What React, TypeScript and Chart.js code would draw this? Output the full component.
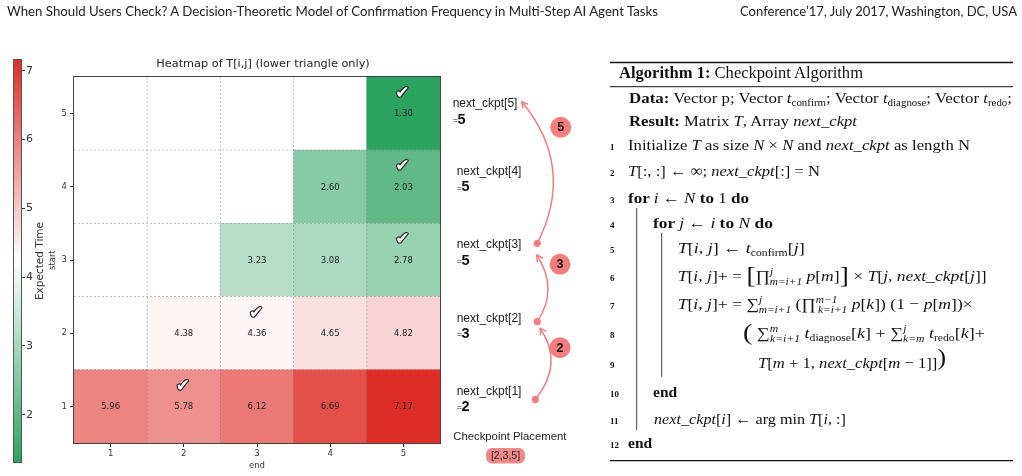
import React, { useEffect, useRef } from "react";
import { Chart, registerables } from "chart.js";

Chart.register(...registerables);

// ---------- data ----------
const endLabels = ["1", "2", "3", "4", "5"];
const startLabels = ["1", "2", "3", "4", "5"];
const rowStart1: (number | null)[] = [5.96, 5.78, 6.12, 6.69, 7.17];
const rowStart2: (number | null)[] = [null, 4.38, 4.36, 4.65, 4.82];
const rowStart3: (number | null)[] = [null, null, 3.23, 3.08, 2.78];
const rowStart4: (number | null)[] = [null, null, null, 2.6, 2.03];
const rowStart5: (number | null)[] = [null, null, null, null, 1.3];
const nextCkpt = [2, 3, 5, 5, 5];
const placement = [2, 3, 5];
const colorbarTicks = [2, 3, 4, 5, 6, 7];
const vMin = 1.3;
const vMax = 7.17;

const rows = [rowStart1, rowStart2, rowStart3, rowStart4, rowStart5];

// ---------- colormap ----------
const GREEN = [44, 162, 95];
const WHITE = [255, 255, 255];
const RED = [222, 45, 38];
function cmap(v: number) {
  const mid = (vMin + vMax) / 2;
  let a: number[], b: number[], t: number;
  if (v <= mid) {
    a = GREEN; b = WHITE; t = (v - vMin) / (mid - vMin);
  } else {
    a = WHITE; b = RED; t = (v - mid) / (vMax - mid);
  }
  t = Math.max(0, Math.min(1, t));
  const c = a.map((x, i) => Math.round(x + (b[i] - x) * t));
  return `rgb(${c[0]},${c[1]},${c[2]})`;
}

const ARROW = "#f47d7d";
const SANS = "'Liberation Sans', Arial, sans-serif";
const DV = "'DejaVu Sans', sans-serif";

// layout constants for the annotation column (relative to chart area right edge / row centres)
const arrowLayout = [
  { dot: [95.3, -7], end: [100, -5], ctrl: [124.4, 0], badge: [120, 14.5] },
  { dot: [97.3, -11.5], end: [96.7, -5], ctrl: [119, 0], badge: [120, 4.3] },
  { dot: [97.3, -16.7], end: [81.7, -12], ctrl: [135.9, -5], badge: [120.7, 13.7] },
];

const heatPlugin = {
  id: "heatExtras",
  afterDatasetsDraw(chart: any) {
    const { ctx, chartArea: a, scales } = chart;
    const x = scales.x;
    const y = scales.y;
    ctx.save();
    // dashed grid at cell boundaries
    ctx.strokeStyle = "rgba(120,120,120,0.55)";
    ctx.lineWidth = 0.8;
    ctx.setLineDash([2, 2]);
    for (let k = 1; k < endLabels.length; k++) {
      const px = (x.getPixelForValue(k - 1) + x.getPixelForValue(k)) / 2;
      ctx.beginPath();
      ctx.moveTo(px, a.top);
      ctx.lineTo(px, a.bottom);
      ctx.stroke();
    }
    for (let k = 1; k < startLabels.length; k++) {
      const py = y.getPixelForValue(k + 0.5);
      ctx.beginPath();
      ctx.moveTo(a.left, py);
      ctx.lineTo(a.right, py);
      ctx.stroke();
    }
    ctx.setLineDash([]);
    // frame
    ctx.strokeStyle = "#444";
    ctx.lineWidth = 1;
    ctx.strokeRect(a.left - 0.5, a.top - 0.5, a.width + 1, a.height + 1);

    // values
    ctx.font = `8.5px ${DV}`;
    ctx.fillStyle = "#222";
    ctx.textAlign = "center";
    ctx.textBaseline = "middle";
    rows.forEach((r, ri) => {
      r.forEach((v, ci) => {
        if (v == null) return;
        ctx.fillText(v.toFixed(2), x.getPixelForValue(ci), y.getPixelForValue(ri + 1) + 0.5);
      });
    });
    // check marks at argmin
    ctx.font = `17px ${DV}`;
    ctx.lineJoin = "round";
    nextCkpt.forEach((c, ri) => {
      const px = x.getPixelForValue(c - 1) - 1;
      const py = y.getPixelForValue(ri + 1) - 20;
      ctx.strokeStyle = "#222";
      ctx.lineWidth = 2.4;
      ctx.strokeText("\u2714", px, py);
      ctx.fillStyle = "#fff";
      ctx.fillText("\u2714", px, py);
    });

    // title
    ctx.fillStyle = "#222";
    ctx.font = `11.3px ${DV}`;
    ctx.fillText("Heatmap of T[i,j] (lower triangle only)", (a.left + a.right) / 2 + 6, a.top - 13);

    // next_ckpt labels
    ctx.textAlign = "left";
    nextCkpt.forEach((c, ri) => {
      const r = ri + 1;
      const cy = y.getPixelForValue(r);
      const top = r === startLabels.length;
      const lx = a.right + (top ? 12.7 : 16.7);
      ctx.fillStyle = "#222";
      ctx.font = `12px ${SANS}`;
      ctx.fillText(`next_ckpt[${r}]`, lx, cy + (top ? -9.6 : -15));
      const ey = cy + (top ? 6.4 : 0.5);
      ctx.font = `9px ${SANS}`;
      ctx.fillText("=", lx, ey + 1);
      ctx.font = `bold 14.5px ${SANS}`;
      ctx.fillStyle = "#111";
      ctx.fillText(String(c), lx + 4.8, ey);
    });

    // arrows between checkpoints
    const sources = [1, ...placement.slice(0, -1)];
    sources.forEach((src, i) => {
      const tgt = placement[i];
      const L = arrowLayout[i];
      const p0 = [a.right + L.dot[0], y.getPixelForValue(src) + L.dot[1]];
      const p2 = [a.right + L.end[0], y.getPixelForValue(tgt) + L.end[1]];
      const cp = [a.right + L.ctrl[0], (p0[1] + p2[1]) / 2 + L.ctrl[1]];
      ctx.strokeStyle = ARROW;
      ctx.fillStyle = ARROW;
      ctx.lineWidth = 1.5;
      ctx.beginPath();
      ctx.moveTo(p0[0], p0[1]);
      ctx.quadraticCurveTo(cp[0], cp[1], p2[0], p2[1]);
      ctx.stroke();
      // open head
      const ang = Math.atan2(p2[1] - cp[1], p2[0] - cp[0]);
      const hl = 7;
      ctx.beginPath();
      ctx.moveTo(p2[0] - hl * Math.cos(ang - 0.5), p2[1] - hl * Math.sin(ang - 0.5));
      ctx.lineTo(p2[0], p2[1]);
      ctx.lineTo(p2[0] - hl * Math.cos(ang + 0.5), p2[1] - hl * Math.sin(ang + 0.5));
      ctx.stroke();
      // dot
      ctx.beginPath();
      ctx.arc(p0[0], p0[1], 3.6, 0, Math.PI * 2);
      ctx.fill();
      // badge
      const bx = a.right + L.badge[0];
      const by = y.getPixelForValue(tgt) + L.badge[1];
      ctx.beginPath();
      ctx.arc(bx, by, 10.5, 0, Math.PI * 2);
      ctx.fill();
      ctx.fillStyle = "#111";
      ctx.font = `bold 12.5px ${SANS}`;
      ctx.textAlign = "center";
      ctx.fillText(String(tgt), bx, by + 0.5);
      ctx.textAlign = "left";
    });

    // checkpoint placement
    ctx.fillStyle = "#222";
    ctx.font = `11.3px ${SANS}`;
    ctx.textAlign = "left";
    ctx.fillText("Checkpoint Placement", a.right + 13.3, a.bottom - 6.3);
    const pill = `[${placement.join(",")}]`;
    ctx.fillStyle = "#f28a8a";
    ctx.beginPath();
    (ctx as any).roundRect(a.right + 46, a.bottom + 5, 39, 15.5, 6);
    ctx.fill();
    ctx.fillStyle = "#222";
    ctx.font = `10.5px ${SANS}`;
    ctx.textAlign = "center";
    ctx.fillText(pill, a.right + 65.5, a.bottom + 13);
    ctx.restore();
  },
};

const cbPlugin = {
  id: "cbLabel",
  afterDraw(chart: any) {
    const { ctx, chartArea: a } = chart;
    ctx.save();
    ctx.translate(40, (a.top + a.bottom) / 2);
    ctx.rotate(-Math.PI / 2);
    ctx.font = `10.5px ${DV}`;
    ctx.fillStyle = "#333";
    ctx.textAlign = "center";
    ctx.textBaseline = "middle";
    ctx.fillText("Expected Time", 0, 0);
    ctx.restore();
  },
};

function Algorithm() {
  const F = 15.5;
  const S = 10;
  const it = (s: string) => <tspan fontStyle="italic">{s}</tspan>;
  const bd = (s: string) => <tspan fontWeight="bold">{s}</tspan>;
  const num = (n: string, yy: number) => (
    <text x={610} y={yy} fontSize={9} fontWeight="bold">{n}</text>
  );
  const lines: [string, number][] = [
    ["1", 150], ["2", 176], ["3", 203], ["4", 228], ["5", 253], ["6", 281],
    ["7", 309], ["8", 338], ["9", 368], ["10", 397], ["11", 424], ["12", 448],
  ];
  return (
    <svg width={1022} height={476} style={{ position: "absolute", left: 0, top: 0 }}
      fontFamily="'Liberation Serif', 'DejaVu Serif', serif" fill="#111">
      <text x={7} y={16} fontFamily="Lato, 'Open Sans', sans-serif" fontSize={12.5}
        textLength={651} lengthAdjust="spacingAndGlyphs" fill="#222">
        When Should Users Check? A Decision-Theoretic Model of Confirmation Frequency in Multi-Step AI Agent Tasks
      </text>
      <text x={740} y={16} fontFamily="Lato, 'Open Sans', sans-serif" fontSize={12.5}
        textLength={277} lengthAdjust="spacingAndGlyphs" fill="#222">
        Conference’17, July 2017, Washington, DC, USA
      </text>

      <line x1={610} x2={1013} y1={62.5} y2={62.5} stroke="#111" strokeWidth={1.3} />
      <text x={619} y={78} fontSize={16} textLength={244} lengthAdjust="spacingAndGlyphs">
        {bd("Algorithm 1:")}{" Checkpoint Algorithm"}
      </text>
      <line x1={610} x2={1013} y1={86.7} y2={86.7} stroke="#111" strokeWidth={1} />

      <text x={629} y={103} fontSize={F} textLength={383} lengthAdjust="spacingAndGlyphs">
        {bd("Data:")}{" Vector p; Vector "}{it("t")}
        <tspan fontSize={S} dy={3}>confirm</tspan><tspan dy={-3}>{"; Vector "}</tspan>{it("t")}
        <tspan fontSize={S} dy={3}>diagnose</tspan><tspan dy={-3}>{"; Vector "}</tspan>{it("t")}
        <tspan fontSize={S} dy={3}>redo</tspan><tspan dy={-3}>;</tspan>
      </text>
      <text x={629} y={126} fontSize={F} textLength={228} lengthAdjust="spacingAndGlyphs">
        {bd("Result:")}{" Matrix "}{it("T")}{", Array "}{it("next_ckpt")}
      </text>

      {lines.map(([n, yy]) => <React.Fragment key={n}>{num(n, yy)}</React.Fragment>)}

      <text x={628} y={150} fontSize={F} textLength={342} lengthAdjust="spacingAndGlyphs">
        {"Initialize "}{it("T")}{" as size "}{it("N")}{" × "}{it("N")}{" and "}{it("next_ckpt")}{" as length N"}
      </text>
      <text x={628} y={176} fontSize={F} textLength={192} lengthAdjust="spacingAndGlyphs">
        {it("T")}{"[:, :] ← ∞; "}{it("next_ckpt")}{"[:] = N"}
      </text>
      <text x={628} y={203} fontSize={F} textLength={121} lengthAdjust="spacingAndGlyphs">
        {bd("for ")}{it("i")}{" ← "}{it("N")}{bd(" to ")}{"1"}{bd(" do")}
      </text>
      <text x={653} y={228} fontSize={F} textLength={120} lengthAdjust="spacingAndGlyphs">
        {bd("for ")}{it("j")}{" ← "}{it("i")}{bd(" to ")}{it("N")}{bd(" do")}
      </text>
      <text x={677.7} y={253} fontSize={F} textLength={127} lengthAdjust="spacingAndGlyphs">
        {it("T")}{"["}{it("i")}{", "}{it("j")}{"] ← "}{it("t")}
        <tspan fontSize={S} dy={3}>confirm</tspan><tspan dy={-3}>[</tspan>{it("j")}{"]"}
      </text>
      <text x={677.7} y={281} fontSize={F} textLength={309} lengthAdjust="spacingAndGlyphs">
        {it("T")}{"["}{it("i")}{", "}{it("j")}{"]+ = "}
        <tspan fontSize={24} dy={2}>[</tspan>
        <tspan dy={-2}>∏</tspan>
        <tspan fontSize={S} fontStyle="italic" dy={-6}>j</tspan>
        <tspan fontSize={S} fontStyle="italic" dx={-3} dy={10}>m=i+1</tspan>
        <tspan dy={-4}>{" "}</tspan>{it("p")}{"["}{it("m")}{"]"}
        <tspan fontSize={24} dy={2}>]</tspan>
        <tspan dy={-2}>{" × "}</tspan>{it("T")}{"["}{it("j")}{", "}{it("next_ckpt")}{"["}{it("j")}{"]]"}
      </text>
      <text x={677.7} y={309} fontSize={F} textLength={295} lengthAdjust="spacingAndGlyphs">
        {it("T")}{"["}{it("i")}{", "}{it("j")}{"]+ = ∑"}
        <tspan fontSize={S} fontStyle="italic" dy={-6}>j</tspan>
        <tspan fontSize={S} fontStyle="italic" dx={-3} dy={10}>m=i+1</tspan>
        <tspan dy={-4}>{" (∏"}</tspan>
        <tspan fontSize={S} fontStyle="italic" dy={-6}>m−1</tspan>
        <tspan fontSize={S} fontStyle="italic" dx={-17} dy={10}>k=i+1</tspan>
        <tspan dy={-4}>{" "}</tspan>{it("p")}{"["}{it("k")}{"]) (1 − "}{it("p")}{"["}{it("m")}{"])×"}
      </text>
      <text x={743} y={338} fontSize={F} textLength={242} lengthAdjust="spacingAndGlyphs">
        <tspan fontSize={24} dy={2}>(</tspan>
        <tspan dy={-2}>{" ∑"}</tspan>
        <tspan fontSize={S} fontStyle="italic" dy={-6}>m</tspan>
        <tspan fontSize={S} fontStyle="italic" dx={-7} dy={10}>k=i+1</tspan>
        <tspan dy={-4}>{" "}</tspan>{it("t")}
        <tspan fontSize={S} dy={3}>diagnose</tspan><tspan dy={-3}>[</tspan>{it("k")}{"] + ∑"}
        <tspan fontSize={S} fontStyle="italic" dy={-6}>j</tspan>
        <tspan fontSize={S} fontStyle="italic" dx={-3} dy={10}>k=m</tspan>
        <tspan dy={-4}>{" "}</tspan>{it("t")}
        <tspan fontSize={S} dy={3}>redo</tspan><tspan dy={-3}>[</tspan>{it("k")}{"]+"}
      </text>
      <text x={758} y={368} fontSize={F} textLength={188} lengthAdjust="spacingAndGlyphs">
        {it("T")}{"["}{it("m")}{" + 1, "}{it("next_ckpt")}{"["}{it("m")}{" − 1]]"}
        <tspan fontSize={24} dy={-3}>)</tspan>
      </text>
      <text x={653} y={397} fontSize={F} fontWeight="bold">end</text>
      <text x={654} y={424} fontSize={F} textLength={192} lengthAdjust="spacingAndGlyphs">
        {it("next_ckpt")}{"["}{it("i")}{"] ← arg min "}{it("T")}{"["}{it("i")}{", :]"}
      </text>
      <text x={628} y={448} fontSize={F} fontWeight="bold">end</text>

      <line x1={636.7} x2={636.7} y1={208} y2={430} stroke="#111" strokeWidth={0.8} />
      <line x1={661.7} x2={661.7} y1={233} y2={377} stroke="#111" strokeWidth={0.8} />
      <line x1={610} x2={1013} y1={460.7} y2={460.7} stroke="#111" strokeWidth={1.3} />
    </svg>
  );
}

export default function App() {
  const mainRef = useRef<HTMLCanvasElement>(null);
  const cbRef = useRef<HTMLCanvasElement>(null);

  useEffect(() => {
    if (!mainRef.current || !cbRef.current) return;
    const datasets = rows.map((r, ri) => ({
      label: `start ${ri + 1}`,
      data: r.map((v) => (v == null ? null : [ri + 1 - 0.5, ri + 1 + 0.5])),
      backgroundColor: r.map((v) => (v == null ? "rgba(0,0,0,0)" : cmap(v))),
      borderWidth: 0,
      barPercentage: 1,
      categoryPercentage: 1,
      grouped: false,
    }));
    const main = new Chart(mainRef.current, {
      type: "bar",
      data: { labels: endLabels, datasets: datasets as any },
      options: {
        animation: false,
        responsive: false,
        devicePixelRatio: 1,
        layout: { padding: { left: 44, top: 77, right: 160, bottom: 0 } },
        plugins: { legend: { display: false }, tooltip: { enabled: false } },
        scales: {
          x: {
            type: "category",
            offset: true,
            grid: { display: true, drawOnChartArea: false, tickLength: 4, color: "#333", offset: false },
            border: { display: false },
            ticks: { font: { size: 8.5, family: DV }, color: "#333", padding: 2, maxRotation: 0 },
            title: { display: true, text: "end", font: { size: 8.5, family: DV }, color: "#333", padding: { top: 0, bottom: 5 } },
            afterFit: (s: any) => { s.height = 33; },
          },
          y: {
            type: "linear",
            min: 0.5,
            max: 5.5,
            afterBuildTicks: (s: any) => { s.ticks = startLabels.map((v) => ({ value: Number(v) })); },
            grid: { drawOnChartArea: false, tickLength: 4, color: "#333" },
            border: { display: false },
            ticks: { font: { size: 8.5, family: DV }, color: "#333", padding: 3 },
            title: { display: true, text: "start", font: { size: 8.5, family: DV }, color: "#333", padding: { top: 4, bottom: 0 } },
            afterFit: (s: any) => { s.width = 30; },
          },
        },
      } as any,
      plugins: [heatPlugin],
    });

    const cb = new Chart(cbRef.current, {
      type: "bar",
      data: {
        labels: [""],
        datasets: [
          {
            data: [[vMin, vMax]] as any,
            backgroundColor: (c: any) => {
              const area = c.chart.chartArea;
              if (!area) return "#fff";
              const g = c.chart.ctx.createLinearGradient(0, area.bottom, 0, area.top);
              g.addColorStop(0, cmap(vMin));
              g.addColorStop(0.5, cmap((vMin + vMax) / 2));
              g.addColorStop(1, cmap(vMax));
              return g;
            },
            borderColor: "#555",
            borderWidth: 1,
            borderSkipped: false,
            barPercentage: 1,
            categoryPercentage: 1,
            inflateAmount: 0,
          } as any,
        ],
      },
      options: {
        animation: false,
        responsive: false,
        devicePixelRatio: 1,
        layout: { padding: { left: 13, top: 59, bottom: 13, right: 0 } },
        plugins: { legend: { display: false }, tooltip: { enabled: false } },
        scales: {
          x: { display: false },
          y: {
            position: "right",
            min: vMin,
            max: vMax,
            afterBuildTicks: (s: any) => { s.ticks = colorbarTicks.map((v) => ({ value: v })); },
            grid: { drawOnChartArea: false, tickLength: 3, color: "#333" },
            border: { display: false },
            ticks: { font: { size: 11, family: DV }, color: "#333", padding: 1 },
            afterFit: (s: any) => { s.width = 48; },
          },
        },
      } as any,
      plugins: [cbPlugin],
    });
    return () => {
      main.destroy();
      cb.destroy();
    };
  }, []);

  return (
    <div style={{ position: "absolute", left: 0, top: 0, width: 1022, height: 476, background: "#fff", overflow: "hidden" }}>
      <canvas ref={mainRef} width={600} height={476}
        style={{ position: "absolute", left: 0, top: 0, width: 600, height: 476, display: "block" }} />
      <canvas ref={cbRef} width={70} height={476}
        style={{ position: "absolute", left: 0, top: 0, width: 70, height: 476, display: "block" }} />
      <Algorithm />
    </div>
  );
}
